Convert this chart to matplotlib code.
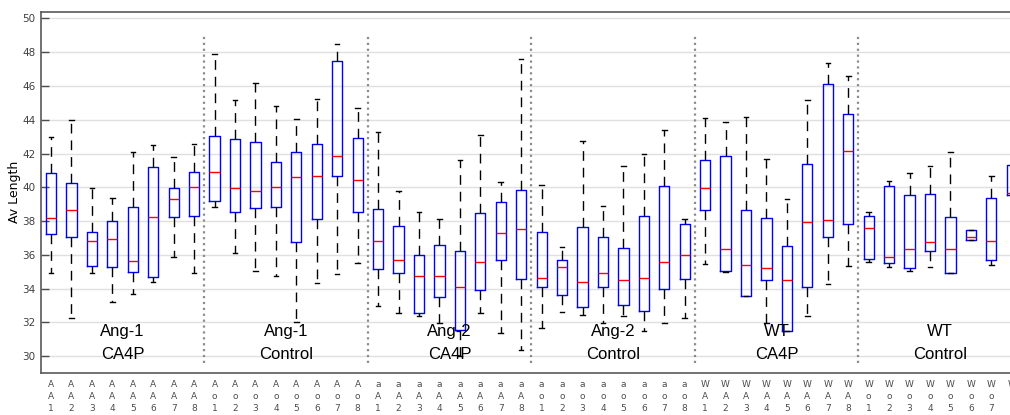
import numpy as np
import matplotlib.pyplot as plt

# box statistics (one entry per box, 48 boxes)
whisker_low = [34.91, 32.25, 34.91, 33.20, 33.69, 34.41, 35.89, 34.91,
               38.85, 36.13, 35.07, 34.75, 32.05, 34.32, 34.87, 35.49,
               32.94, 32.58, 32.37, 31.95, 29.98, 32.58, 31.36, 30.37,
               31.69, 32.60, 32.44, 31.95, 32.40, 31.46, 31.95, 32.25,
               35.45, 35.00, 33.55, 31.95, 31.46, 32.40, 34.28, 35.34,
               35.56, 35.30, 35.07, 35.27, 34.95, 36.88, 35.38, 39.52]
q1 = [37.24, 37.04, 35.36, 35.27, 35.01, 34.67, 38.22, 38.30,
      39.19, 38.52, 38.76, 38.82, 36.78, 38.11, 40.67, 38.56,
      35.17, 34.95, 32.58, 33.53, 31.56, 33.92, 35.70, 34.57,
      34.12, 33.63, 32.90, 34.12, 33.04, 32.68, 33.96, 34.56,
      38.66, 35.03, 33.57, 34.49, 31.46, 34.10, 37.08, 37.81,
      35.74, 35.54, 35.24, 36.23, 34.95, 36.88, 35.70, 39.52]
median = [38.17, 38.66, 36.84, 36.92, 35.64, 38.26, 39.29, 40.00,
          40.89, 39.94, 39.78, 40.00, 40.59, 40.69, 41.83, 40.43,
          36.82, 35.70, 34.75, 34.75, 34.12, 35.56, 37.31, 37.53,
          34.62, 35.27, 34.41, 34.95, 34.51, 34.65, 35.56, 36.00,
          39.94, 36.37, 35.40, 35.24, 34.51, 37.95, 38.05, 42.17,
          37.57, 35.89, 36.33, 36.75, 36.37, 37.08, 36.84, 39.68]
q3 = [40.86, 40.24, 37.37, 38.02, 38.85, 41.18, 39.94, 40.92,
      43.04, 42.86, 42.70, 41.51, 42.11, 42.54, 47.49, 42.94,
      38.70, 37.71, 35.98, 36.60, 36.25, 38.50, 39.13, 39.84,
      37.37, 35.72, 37.63, 37.08, 36.39, 38.30, 40.06, 37.83,
      41.62, 41.87, 38.66, 38.20, 36.54, 41.36, 46.09, 44.34,
      38.32, 40.06, 39.52, 39.58, 38.24, 37.47, 39.39, 41.32]
whisker_high = [43.00, 43.98, 39.94, 39.39, 42.11, 42.50, 41.81, 42.54,
                47.89, 45.17, 46.15, 44.81, 44.02, 45.22, 48.50, 44.67,
                43.29, 39.80, 38.56, 38.12, 41.62, 43.09, 40.30, 47.59,
                40.12, 36.47, 42.72, 38.91, 41.26, 41.99, 43.41, 38.11,
                44.08, 43.88, 44.14, 41.67, 39.31, 45.17, 47.34, 46.59,
                38.52, 40.37, 40.86, 41.26, 42.11, 37.47, 40.67, 41.32]

groups = ["Ang-1", "Ang-1", "Ang-2", "Ang-2", "WT", "WT"]
conditions = ["CA4P", "Control", "CA4P", "Control", "CA4P", "Control"]
group_codes = ["A", "A", "a", "a", "W", "W"]
cond_codes = ["A", "o", "A", "o", "A", "o"]
per_group = 8

positions = np.arange(1, len(median) + 1)
stats = [dict(med=m, q1=a, q3=b, whislo=lo, whishi=hi, fliers=[])
         for m, a, b, lo, hi in zip(median, q1, q3, whisker_low, whisker_high)]

tick_labels = [f"{g}\n{c}\n{n}"
               for g, c in zip(group_codes, cond_codes)
               for n in range(1, per_group + 1)]

fig = plt.figure(figsize=(10.1, 4.15), dpi=100)
ax = fig.add_axes([0.0404, 0.1012, 0.9715, 0.8706])

ax.bxp(stats, positions=positions, widths=0.5, showfliers=False,
       boxprops=dict(color="blue", linewidth=1),
       medianprops=dict(color="red", linewidth=1),
       whiskerprops=dict(color="black", linewidth=1, linestyle=(0, (7, 5))),
       capprops=dict(color="black", linewidth=1),
       capwidths=0.22, zorder=3)

# group separators and labels
for i in range(len(groups)):
    if i > 0:
        ax.plot([i * per_group + 0.5] * 2, [29.6, 49.1], color="0.55",
                linestyle=":", linewidth=1.6, zorder=2)
    cx = i * per_group + (per_group + 1) / 2
    ax.text(cx, 31.44, groups[i], ha="center", va="center", fontsize=12,
            family=["Liberation Sans Narrow", "Liberation Sans"], zorder=4)
    ax.text(cx, 30.08, conditions[i], ha="center", va="center", fontsize=12,
            family=["Liberation Sans Narrow", "Liberation Sans"], zorder=4)

ax.set_xlim(0.5, len(median) + 0.5)
ax.set_ylim(29.0, 50.4)
ax.set_yticks(np.arange(30, 51, 2))
ax.set_xticks(positions)
ax.set_xticklabels(tick_labels, fontsize=6.5, color="0.3", linespacing=1.45)
ax.tick_params(axis="x", length=0, pad=5)
ax.tick_params(axis="y", direction="in", length=6, width=1, color="0.3",
               labelsize=7.5, labelcolor="0.25", pad=4)
ax.yaxis.grid(True, color="0.88", linewidth=1)
ax.set_axisbelow(True)
ax.set_ylabel("Av Length", fontsize=9, labelpad=1)

for side in ["left", "bottom", "top"]:
    ax.spines[side].set_color("0.35")
    ax.spines[side].set_linewidth(1.2)
ax.spines["right"].set_visible(False)

fig.savefig("out.png", dpi=100)
